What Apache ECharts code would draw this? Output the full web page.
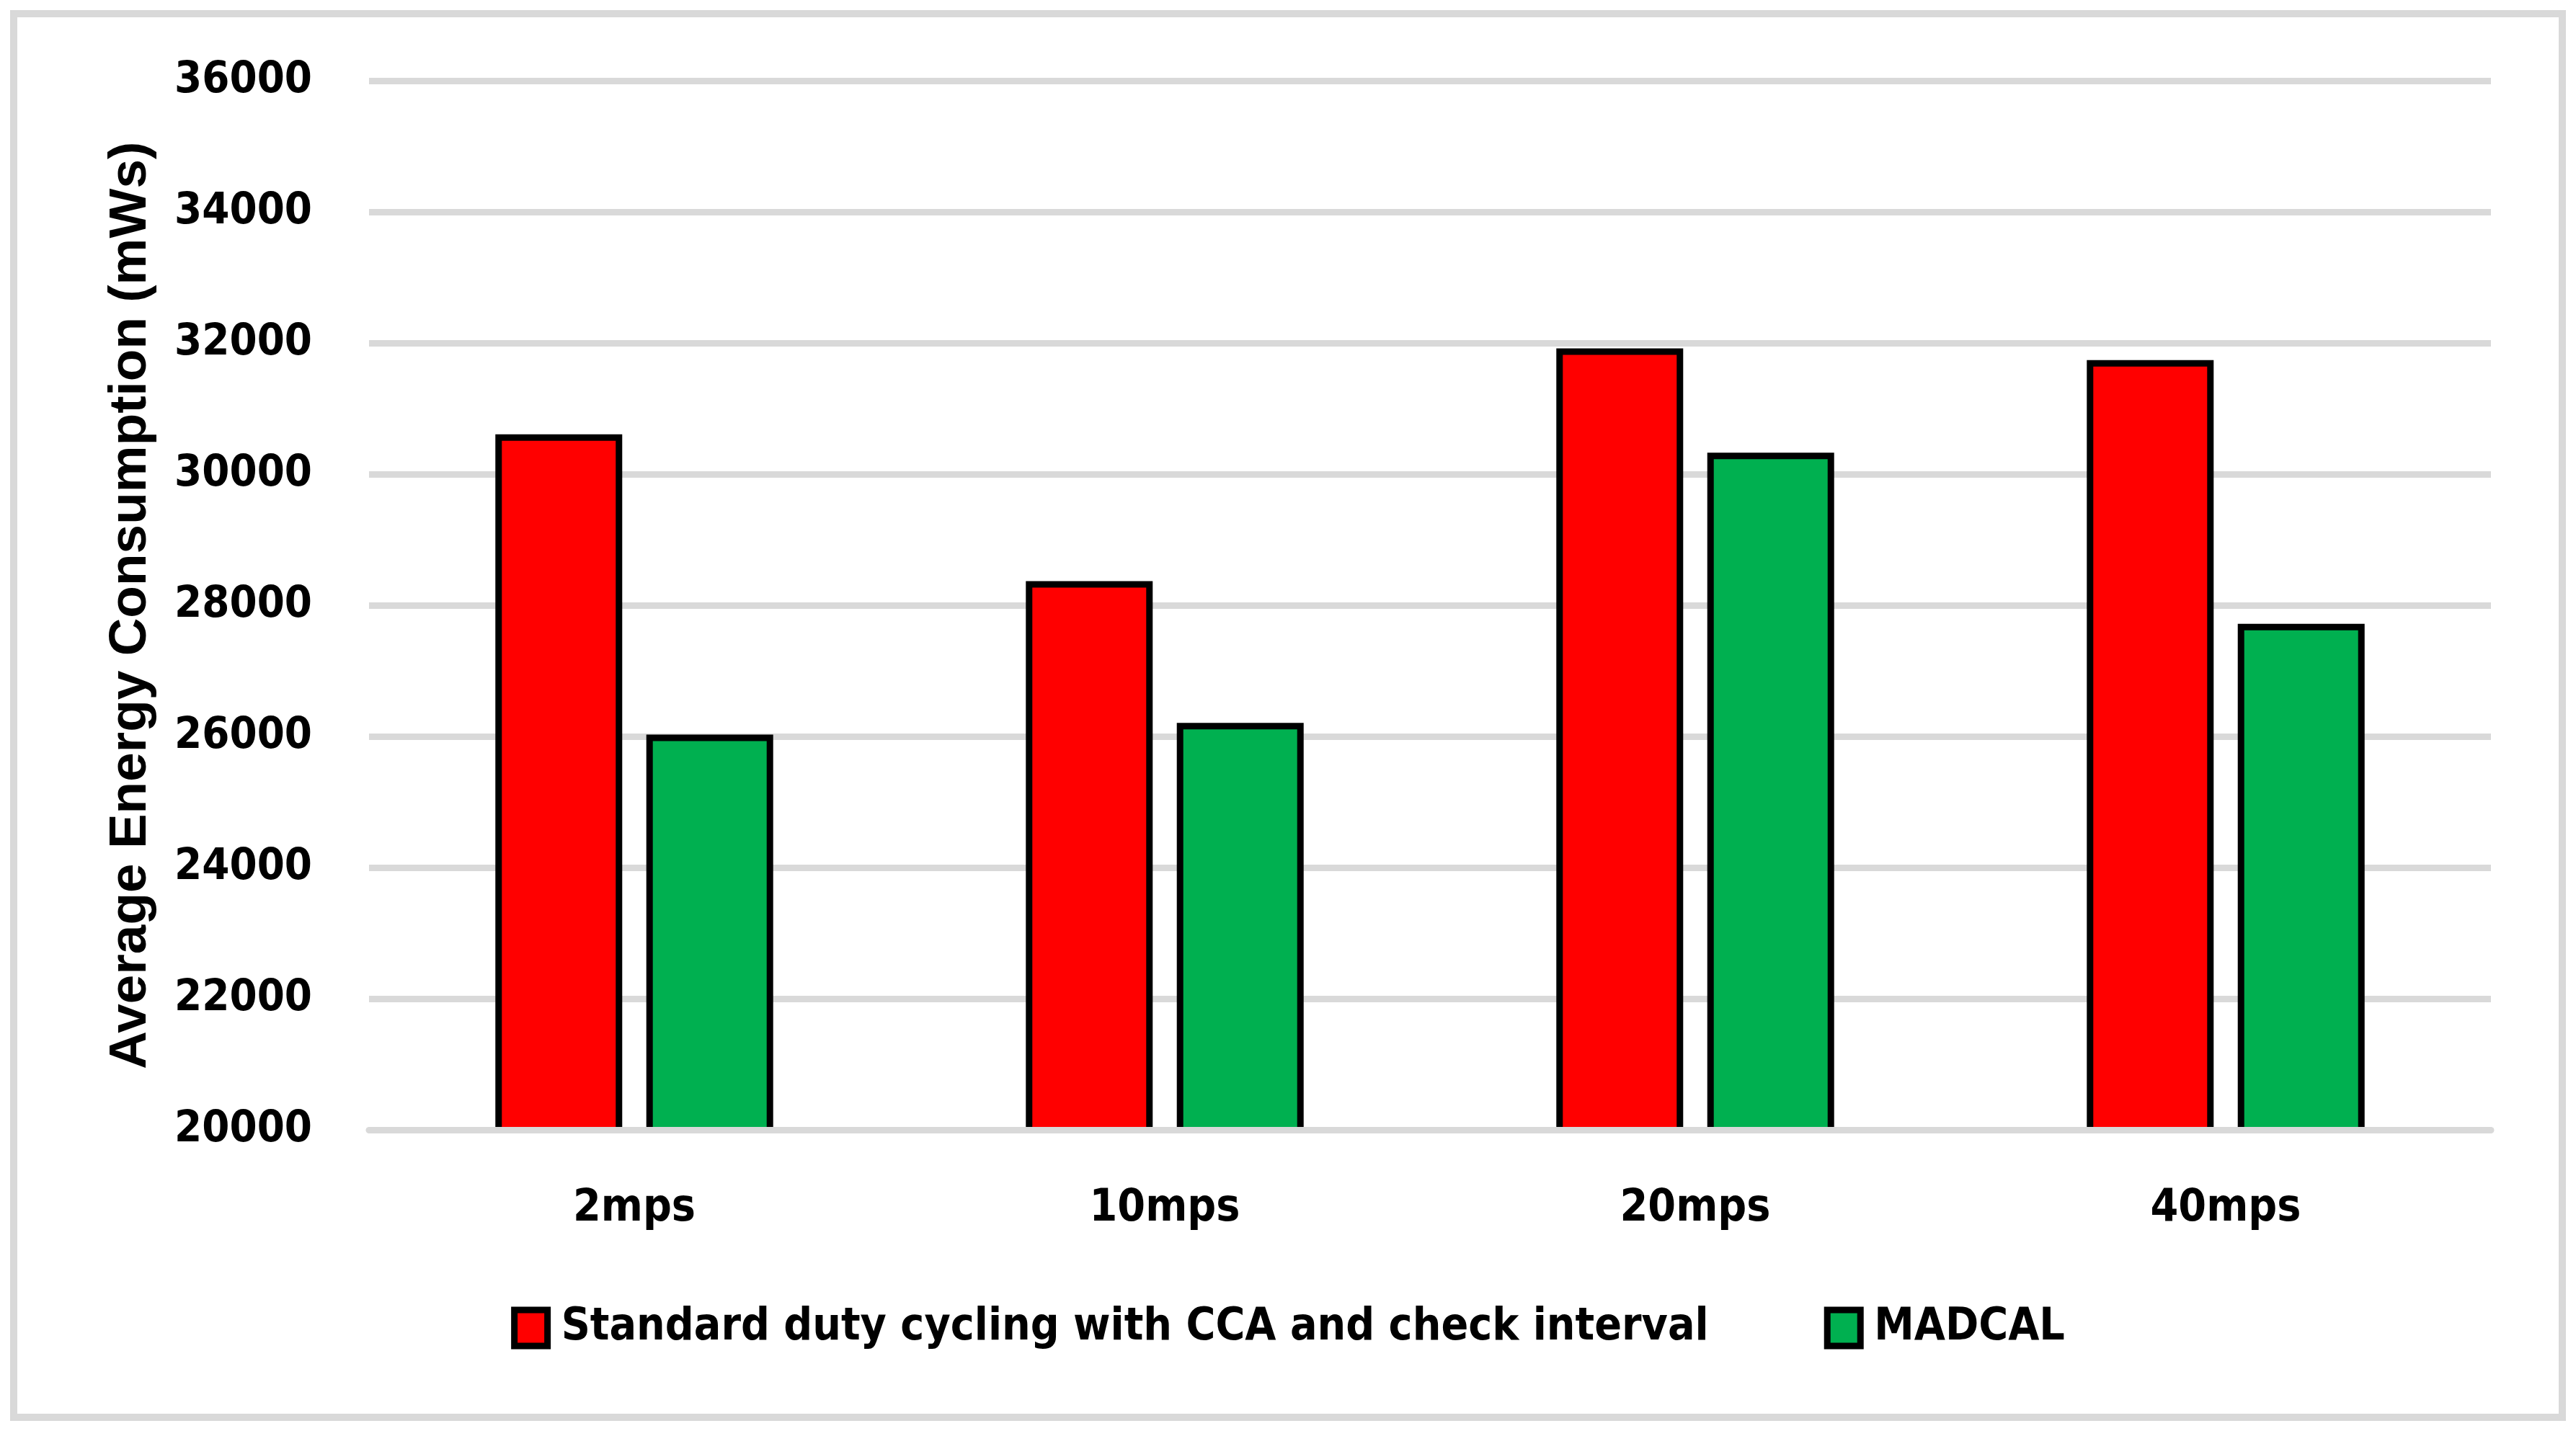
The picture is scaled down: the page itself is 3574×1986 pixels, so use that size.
<!DOCTYPE html>
<html>
<head>
<meta charset="utf-8">
<script src="https://cdn.jsdelivr.net/npm/echarts@6/dist/echarts.min.js"></script>
<style>
html,body{margin:0;padding:0;background:#fff;}
#chart{width:3574px;height:1986px;}
</style>
</head>
<body>
<div id="chart"></div>
<script>
var categories = ['2mps', '10mps', '20mps', '40mps'];
var seriesNames = ['Standard duty cycling with CCA and check interval', 'MADCAL'];
var standardValues = [30610, 28370, 31920, 31740];
var madcalValues = [26030, 26210, 30330, 27720];
var yMin = 20000, yMax = 36000, yInterval = 2000;
var yTitle = 'Average Energy Consumption (mWs)';

var narrow = "'Liberation Sans Narrow', 'DejaVu Sans Condensed', 'Liberation Sans', sans-serif";
var chart = echarts.init(document.getElementById('chart'), null, {renderer: 'canvas'});
chart.setOption({
  backgroundColor: '#ffffff',
  animation: false,
  graphic: [{
    type: 'rect',
    shape: {x: 19, y: 19, width: 3536, height: 1948},
    style: {fill: 'none', stroke: '#d9d9d9', lineWidth: 10},
    z: -1
  }],
  grid: {left: 512, right: 118, top: 112, bottom: 417.5, containLabel: false},
  legend: {
    data: seriesNames,
    top: 1807,
    left: 'center',
    itemWidth: 46,
    itemHeight: 50,
    itemGap: 160,
    icon: 'rect',
    itemStyle: {borderColor: '#000000', borderWidth: 9},
    textStyle: {fontFamily: narrow, fontWeight: 'bold', fontSize: 62, color: '#000', padding: [0, 0, 0, 14]}
  },
  xAxis: {
    type: 'category',
    data: categories,
    z: 10,
    axisLine: {show: true, lineStyle: {color: '#d9d9d9', width: 9}},
    axisTick: {show: false},
    axisLabel: {fontFamily: narrow, fontWeight: 'bold', fontSize: 62, color: '#000', margin: 78}
  },
  yAxis: {
    type: 'value',
    min: yMin, max: yMax, interval: yInterval,
    name: yTitle,
    nameLocation: 'middle',
    nameGap: 294,
    nameRotate: 90,
    nameTextStyle: {fontFamily: "'Liberation Sans', 'DejaVu Sans', sans-serif", fontWeight: 'bold', fontSize: 73, color: '#000'},
    axisLine: {show: false},
    axisTick: {show: false},
    axisLabel: {
      fontFamily: narrow, fontWeight: 'bold', fontSize: 61, color: '#000', margin: 79,
      formatter: function (v) { return String(v); }
    },
    splitLine: {show: true, lineStyle: {color: '#d9d9d9', width: 9}}
  },
  series: [{
    name: seriesNames[0],
    type: 'bar',
    data: standardValues,
    barWidth: 176,
    barGap: '19%',
    itemStyle: {color: '#ff0000', borderColor: '#000000', borderWidth: 9}
  }, {
    name: seriesNames[1],
    type: 'bar',
    data: madcalValues,
    barWidth: 176,
    barGap: '19%',
    itemStyle: {color: '#00b050', borderColor: '#000000', borderWidth: 9}
  }]
});
</script>
</body>
</html>
